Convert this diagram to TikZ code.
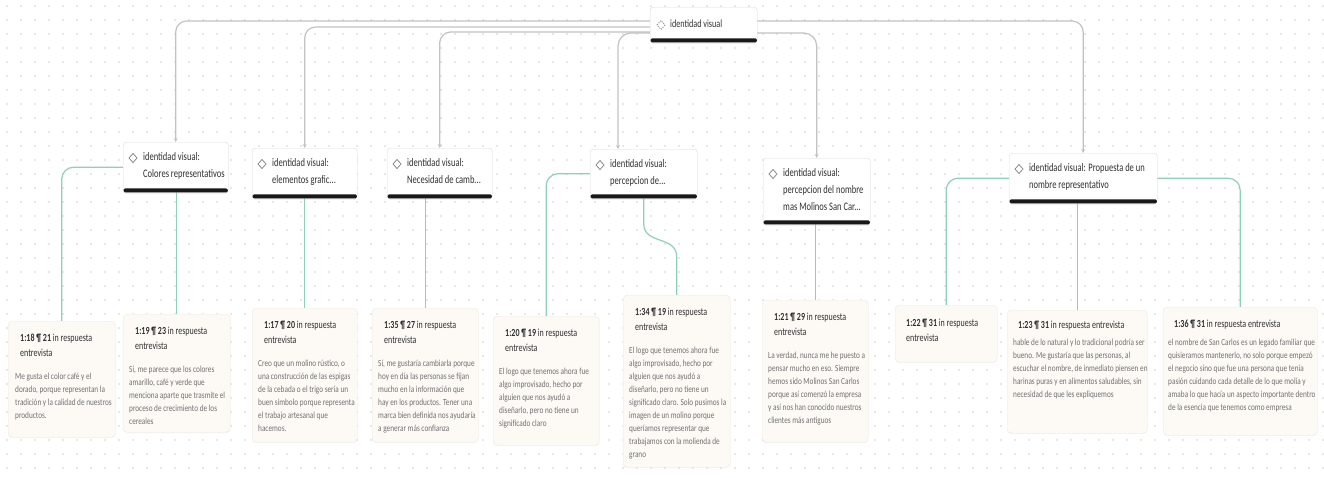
\documentclass[tikz,border=0pt]{standalone}
\usepackage{fontspec}
\setmainfont{Carlito}[FakeStretch=0.74]
\newfontfamily\quotefont{Carlito}[FakeStretch=0.78]
\usetikzlibrary{arrows.meta,shadows,calc}
\pgfdeclarelayer{bg}
\pgfsetlayers{bg,main}

\definecolor{linkgray}{HTML}{C2C2C2}
\definecolor{linkgreen}{HTML}{8ED0BA}
\definecolor{cardfill}{HTML}{FDFAF6}
\definecolor{cardline}{HTML}{F0E7DE}
\definecolor{titlecol}{HTML}{303030}
\definecolor{bodycol}{HTML}{707070}
\definecolor{dotcol}{HTML}{D0D0D0}
\definecolor{iconcol}{HTML}{8A8A8A}

\tikzset{
  codebox/.style={draw=black!14, fill=white, rounded corners=3pt, inner sep=0pt,
    anchor=north west,
    drop shadow={shadow xshift=0pt, shadow yshift=-1.5pt, opacity=0.18}},
  codebar/.style={fill=black!90, rounded corners=1.5pt},
  codetext/.style={anchor=north west, inner sep=0pt, align=left, text=titlecol,
    font=\fontsize{11.5}{17}\selectfont},
  quotebox/.style={draw=cardline, fill=cardfill, rounded corners=4pt, inner sep=0pt,
    anchor=north west,
    drop shadow={shadow xshift=0pt, shadow yshift=-1pt, opacity=0.05}},
  quotetitle/.style={anchor=north west, inner sep=0pt, align=left, text=titlecol,
    font=\fontsize{10.8}{15}\selectfont},
  quotebody/.style={anchor=north west, inner sep=0pt, align=left, text=bodycol,
    font=\quotefont\fontsize{9.3}{13}\selectfont},
  diamondicon/.style={draw=iconcol, line width=0.8pt, line join=round},
  graylink/.style={draw=linkgray, line width=1.2pt,
    -{Stealth[length=4pt,width=4pt]}},
  greenlink/.style={draw=linkgreen, line width=1.2pt},
}

\begin{document}
\begin{tikzpicture}[x=1pt,y=-1pt]
\useasboundingbox (0,0) rectangle (1324,477);

% ---------- root code ----------
\node[codebox, minimum width=107pt, minimum height=35pt] (top) at (650,7) {};
\fill[codebar] ([shift={(0.5,-4)}]top.south west) rectangle ([shift={(-0.5,0)}]top.south east);
\draw[diamondicon, dash pattern=on 1.2pt off 1.2pt] ([shift={(11,18)}]top.north west)
  +(-4,0) -- +(0,-4.5) -- +(4,0) -- +(0,4.5) -- cycle;
\node[codetext, font=\fontsize{11}{15}\selectfont] (topt) at ([shift={(20,13)}]top.north west) {identidad visual};

% ---------- sub codes ----------
\node[codebox, minimum width=105pt, minimum height=50pt] (n1) at (123,142) {};
\node[codebox, minimum width=105pt, minimum height=50pt] (n2) at (252,148) {};
\node[codebox, minimum width=105pt, minimum height=50pt] (n3) at (387,148) {};
\node[codebox, minimum width=107pt, minimum height=49pt] (n4) at (590,149) {};
\node[codebox, minimum width=107pt, minimum height=66pt] (n5) at (763,158) {};
\node[codebox, minimum width=148pt, minimum height=50pt] (n6) at (1009,153) {};

\foreach \n in {n1,n2,n3,n4,n5,n6}{
  \fill[codebar] ([shift={(0.5,-4)}]\n.south west) rectangle ([shift={(-0.5,0)}]\n.south east);
  \draw[diamondicon] ([shift={(10,16)}]\n.north west)
    +(-4,0) -- +(0,-4.5) -- +(4,0) -- +(0,4.5) -- cycle;
}

\node[codetext] (n1t) at ([shift={(20,10)}]n1.north west) {identidad visual:\\Colores representativos};
\node[codetext] (n2t) at ([shift={(20,10)}]n2.north west) {identidad visual:\\elementos grafic...};
\node[codetext] (n3t) at ([shift={(20,10)}]n3.north west) {identidad visual:\\Necesidad de camb...};
\node[codetext] (n4t) at ([shift={(20,10)}]n4.north west) {identidad visual:\\percepcion de...};
\node[codetext] (n5t) at ([shift={(20,10)}]n5.north west) {identidad visual:\\percepcion del nombre\\mas Molinos San Car...};
\node[codetext] (n6t) at ([shift={(20,10)}]n6.north west) {identidad visual: Propuesta de un\\nombre representativo};

% ---------- quotations ----------
\node[quotebox, minimum width=107pt, minimum height=116pt] (b1) at (8,321) {};
\node[quotebox, minimum width=107pt, minimum height=118pt] (b2) at (123,314) {};
\node[quotebox, minimum width=105pt, minimum height=134pt] (b3) at (252,308) {};
\node[quotebox, minimum width=106pt, minimum height=134pt] (b4) at (372,308) {};
\node[quotebox, minimum width=106pt, minimum height=129pt] (b5) at (493,316) {};
\node[quotebox, minimum width=107pt, minimum height=172pt] (b6) at (623,295) {};
\node[quotebox, minimum width=106pt, minimum height=142pt] (b7) at (762,300) {};
\node[quotebox, minimum width=102pt, minimum height=57pt] (b8) at (895,305) {};
\node[quotebox, minimum width=140pt, minimum height=123pt] (b9) at (1007,310) {};
\node[quotebox, minimum width=154pt, minimum height=128pt] (b10) at (1163,307) {};

\node[quotetitle] (b1t) at ([shift={(12,12.5)}]b1.north west) {\textbf{1:18 ¶ 21} in respuesta\\entrevista};
\node[quotebody] (b1b) at ([shift={(7,52)}]b1.north west) {Me gusta el color café y el\\dorado, porque representan la\\tradición y la calidad de nuestros\\productos.};

\node[quotetitle] (b2t) at ([shift={(12,12.5)}]b2.north west) {\textbf{1:19 ¶ 23} in respuesta\\entrevista};
\node[quotebody] (b2b) at ([shift={(6,52)}]b2.north west) {Si, me parece que los colores\\amarillo, café y  verde que\\menciona aparte que trasmite el\\proceso de crecimiento de los\\cereales};

\node[quotetitle] (b3t) at ([shift={(12,12.5)}]b3.north west) {\textbf{1:17 ¶ 20} in respuesta\\entrevista};
\node[quotebody] (b3b) at ([shift={(6,52)}]b3.north west) {Creo que un molino rústico, o\\una construcción de las espigas\\de la cebada o el trigo  sería un\\buen símbolo porque representa\\el trabajo artesanal que\\hacemos.};

\node[quotetitle] (b4t) at ([shift={(12,12.5)}]b4.north west) {\textbf{1:35 ¶ 27} in respuesta\\entrevista};
\node[quotebody] (b4b) at ([shift={(6,52)}]b4.north west) {Sí, me gustaría cambiarla porque\\hoy en día las personas se fijan\\mucho en la información que\\hay en los productos. Tener una\\marca bien definida nos ayudaría\\a generar más confianza};

\node[quotetitle] (b5t) at ([shift={(12,12.5)}]b5.north west) {\textbf{1:20 ¶ 19} in respuesta\\entrevista};
\node[quotebody] (b5b) at ([shift={(6,52)}]b5.north west) {El logo que tenemos ahora fue\\algo improvisado, hecho por\\alguien que nos ayudó a\\diseñarlo, pero no tiene un\\significado claro};

\node[quotetitle] (b6t) at ([shift={(12,12.5)}]b6.north west) {\textbf{1:34 ¶ 19} in respuesta\\entrevista};
\node[quotebody] (b6b) at ([shift={(6,52)}]b6.north west) {El logo que tenemos ahora fue\\algo improvisado, hecho por\\alguien que nos ayudó a\\diseñarlo, pero no tiene un\\significado claro. Solo pusimos la\\imagen de un molino porque\\queríamos representar que\\trabajamos con la molienda de\\grano};

\node[quotetitle] (b7t) at ([shift={(12,12.5)}]b7.north west) {\textbf{1:21 ¶ 29} in respuesta\\entrevista};
\node[quotebody] (b7b) at ([shift={(6,52)}]b7.north west) {La verdad, nunca me he puesto a\\pensar mucho en eso. Siempre\\hemos sido Molinos San Carlos\\porque así comenzó la empresa\\y así nos han conocido nuestros\\clientes más antiguos};

\node[quotetitle] (b8t) at ([shift={(11,13.5)}]b8.north west) {\textbf{1:22 ¶ 31} in respuesta\\entrevista};

\node[quotetitle] (b9t) at ([shift={(11,10.5)}]b9.north west) {\textbf{1:23 ¶ 31} in respuesta entrevista};
\node[quotebody] (b9b) at ([shift={(6,29)}]b9.north west) {hable de lo natural y lo tradicional podría ser\\bueno. Me gustaría que las personas, al\\escuchar el nombre, de inmediato piensen en\\harinas puras y en alimentos saludables, sin\\necesidad de que les expliquemos};

\node[quotetitle] (b10t) at ([shift={(11,12.5)}]b10.north west) {\textbf{1:36 ¶ 31} in respuesta entrevista};
\node[quotebody] (b10b) at ([shift={(5,32)}]b10.north west) {el nombre de San Carlos es un legado familiar que\\quisieramos mantenerlo, no solo porque empezó\\el negocio sino que fue una persona que tenía\\pasión cuidando cada detalle de lo que molía  y\\amaba lo que hacía un aspecto importante dentro\\de la esencia que tenemos como empresa};

% ---------- background: dotted canvas and links ----------
\begin{pgfonlayer}{bg}
  \fill[white] (0,0) rectangle (1324,477);
  \foreach \i in {0,...,94}{
    \foreach \j in {0,...,33}{
      \fill[dotcol] (7+14*\i,6+14*\j) circle (0.85);
    }
  }

  % root to sub codes
  \draw[graylink, rounded corners=11pt] (top.center |- 0,21) -| (n1.north);
  \draw[graylink, rounded corners=11pt] (top.center |- 0,27) -| (n2.north);
  \draw[graylink, rounded corners=11pt] (top.center |- 0,32) -| (n3.north);
  \draw[graylink, rounded corners=13pt] (top.center |- 0,33) -| ([shift={(28,0)}]n4.north west);
  \draw[graylink, rounded corners=13pt] (top.center |- 0,33) -| (n5.north);
  \draw[graylink, rounded corners=11pt] (top.center |- 0,21) -| (n6.north);

  % sub codes to quotations
  \draw[greenlink, rounded corners=12pt] (n1.west) -| (b1.north);
  \draw[greenlink] (b2.north |- n1.south) -- (b2.north);
  \draw[greenlink] (b3.north |- n2.south) -- (b3.north);
  \draw[greenlink] (b4.north |- n3.south) -- (b4.north);
  \draw[greenlink, rounded corners=12pt] (n4.west) -| (b5.north);
  \draw[greenlink] (n4.south) -- ([shift={(0,25)}]n4.south)
    .. controls ([shift={(0,47)}]n4.south) and ([shift={(0,-60)}]b6.north)
    .. ([shift={(0,-38)}]b6.north) -- (b6.north);
  \draw[greenlink] (b7.north |- n5.south) -- (b7.north);
  \draw[greenlink, rounded corners=12pt] (n6.west) -| (b8.north);
  \draw[greenlink] (b9.north |- n6.south) -- (b9.north);
  \draw[greenlink, rounded corners=12pt] (n6.east) -| (b10.north);
\end{pgfonlayer}
\end{tikzpicture}
\end{document}
